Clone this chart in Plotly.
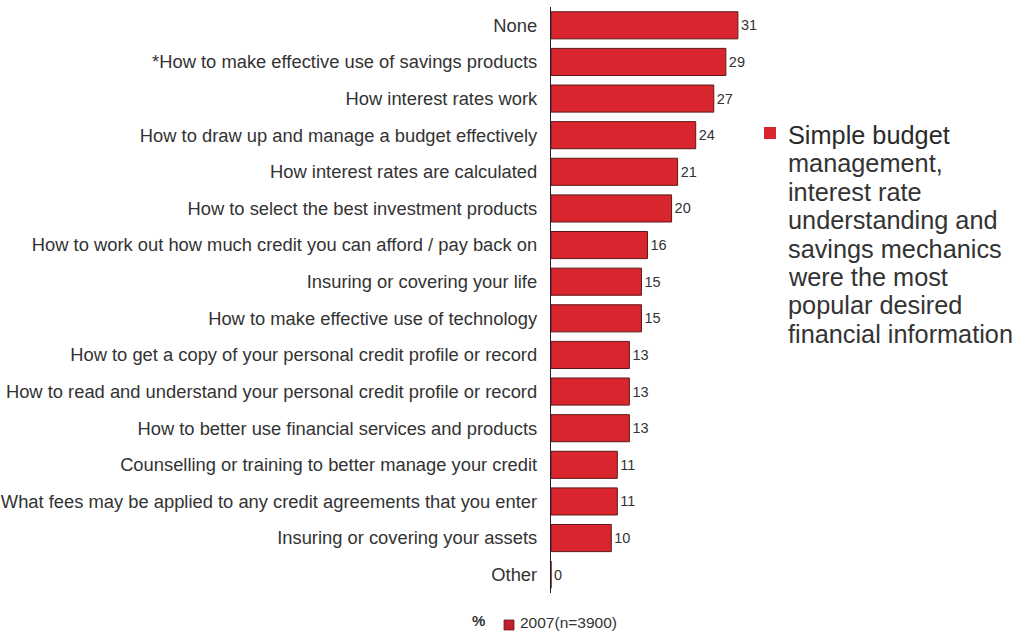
import plotly.graph_objects as go

# Survey responses: desired financial information (% of respondents)
categories = [
    "None",
    "*How to make effective use of savings products",
    "How interest rates work",
    "How to draw up and manage a budget effectively",
    "How interest rates are calculated",
    "How to select the best investment products",
    "How to work out how much credit you can afford / pay back on",
    "Insuring or covering your life",
    "How to make effective use of technology",
    "How to get a copy of your personal credit profile or record",
    "How to read and understand your personal credit profile or record",
    "How to better use financial services and products",
    "Counselling or training to better manage your credit",
    "What fees may be applied to any credit agreements that you enter",
    "Insuring or covering your assets",
    "Other",
]
values_2007 = [31, 29, 27, 24, 21, 20, 16, 15, 15, 13, 13, 13, 11, 11, 10, 0]
series_name = "2007(n=3900)"

note_lines = [
    "Simple budget",
    "management,",
    "interest rate",
    "understanding and",
    "savings mechanics",
    "were the most",
    "popular desired",
    "financial information",
]

FONT = "Liberation Sans, Arial, sans-serif"
RED = "#d9262e"
TEXT = "#333333"

# plot area in pixels
L, R, T, B = 551, 267, 7, 42
W, H = 1023, 635
plot_w = W - L - R
plot_h = H - T - B


def px_x(x):
    return (x - L) / plot_w


def px_y(y):
    return (H - B - y) / plot_h


fig = go.Figure()
fig.add_trace(go.Bar(
    y=categories,
    x=values_2007,
    orientation="h",
    name=series_name,
    marker=dict(color=RED, line=dict(color="#5e1818", width=1)),
    width=0.74,
    text=[str(v) for v in values_2007],
    textposition="outside",
    cliponaxis=False,
    textfont=dict(family=FONT, size=14.5, color=TEXT),
    showlegend=False,
))

fig.update_layout(
    width=W,
    height=H,
    margin=dict(l=L, r=R, t=T, b=B, autoexpand=False),
    paper_bgcolor="white",
    plot_bgcolor="white",
    font=dict(family=FONT, color=TEXT),
    xaxis=dict(range=[0, 34], visible=False, fixedrange=True, automargin=False),
    yaxis=dict(
        categoryorder="array",
        categoryarray=categories,
        autorange="reversed",
        automargin=False,
        showline=True,
        linecolor="#222222",
        linewidth=1.3,
        ticks="",
        showgrid=False,
        ticklabelstandoff=9,
        tickfont=dict(family=FONT, size=18.35, color=TEXT),
    ),
)

# Series key below the chart
fig.add_annotation(
    text="<b>%</b>", xref="paper", yref="paper",
    x=px_x(478), y=px_y(620), xanchor="center", yanchor="middle",
    showarrow=False, font=dict(family=FONT, size=15, color=TEXT),
)
fig.add_shape(type="rect", xref="paper", yref="paper",
              x0=px_x(504), x1=px_x(514), y0=px_y(630), y1=px_y(620),
              fillcolor="#c0202e", line=dict(color="#6a1a1a", width=0.8))
fig.add_annotation(
    text=series_name, xref="paper", yref="paper",
    x=px_x(518), y=px_y(622), xanchor="left", yanchor="middle",
    showarrow=False, font=dict(family=FONT, size=15.5, color=TEXT),
)

# Side note with red bullet
fig.add_shape(type="rect", xref="paper", yref="paper",
              x0=px_x(764), x1=px_x(776), y0=px_y(139), y1=px_y(127),
              fillcolor=RED, line=dict(width=0))
for i, line in enumerate(note_lines):
    fig.add_annotation(
        text=line, xref="paper", yref="paper",
        x=px_x(786), y=px_y(135 + 28.4 * i), xanchor="left", yanchor="middle",
        align="left", showarrow=False,
        font=dict(family=FONT, size=25.3, color="#2a2a2a" if i == 0 else TEXT),
    )

fig.write_html("out.html")
